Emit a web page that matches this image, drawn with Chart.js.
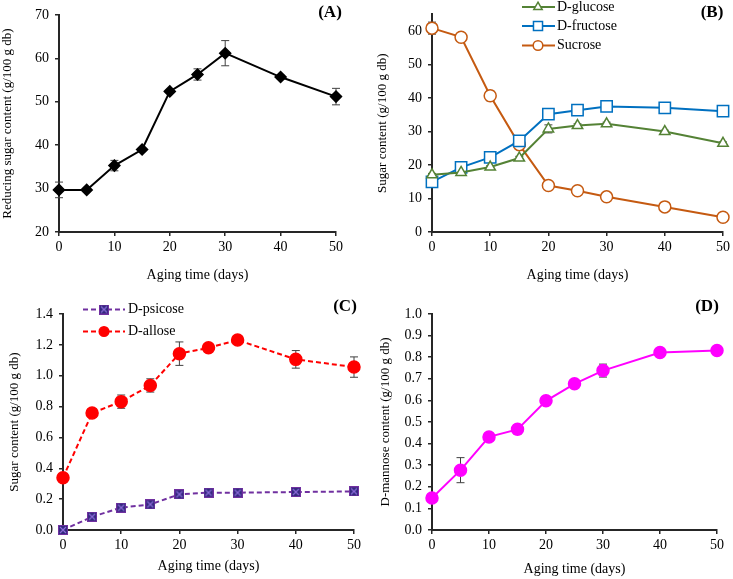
<!DOCTYPE html>
<html>
<head>
<meta charset="utf-8">
<script src="https://cdn.jsdelivr.net/npm/chart.js@4.4.1/dist/chart.umd.min.js"></script>
<style>
  body { margin: 0; background: #fff; }
  .panel { position: absolute; }
</style>
</head>
<body>
<div class="panel" style="left:0;top:0"><canvas id="chartA" width="366" height="290"></canvas></div>
<div class="panel" style="left:370px;top:0"><canvas id="chartB" width="363" height="290"></canvas></div>
<div class="panel" style="left:0;top:290px"><canvas id="chartC" width="366" height="289"></canvas></div>
<div class="panel" style="left:370px;top:290px"><canvas id="chartD" width="363" height="289"></canvas></div>
<script>
// --- Data ---
const agingDays = [0, 5, 10, 15, 20, 25, 30, 40, 50];

const reducingSugar = [29.7, 29.7, 35.3, 39.0, 52.4, 56.3, 61.2, 55.7, 51.2];
const reducingSugarErr = [1.8, 0, 1.2, 0.4, 0.4, 1.3, 2.9, 0.4, 1.9];

const glucose = [17.1, 17.8, 19.4, 22.1, 30.8, 31.8, 32.3, 30.0, 26.5];
const glucoseErr = [0.4, 0.4, 0.4, 0.5, 1.2, 0.5, 0.5, 0.4, 0.4];
const fructose = [15.0, 19.3, 22.3, 27.2, 35.2, 36.4, 37.5, 37.1, 36.1];
const fructoseErr = [0.4, 0.8, 0.4, 0.4, 0.4, 0.4, 0.4, 0.4, 0.4];
const sucrose = [60.9, 58.2, 40.7, 26.1, 13.9, 12.3, 10.5, 7.5, 4.4];
const sucroseErr = [1.8, 0.3, 1.5, 0.4, 0.3, 0.3, 0.3, 0.3, 0.3];

const psicose = [0.0, 0.086, 0.145, 0.166, 0.231, 0.242, 0.242, 0.246, 0.25];
const allose = [0.339, 0.758, 0.832, 0.937, 1.143, 1.181, 1.231, 1.106, 1.056];
const alloseErr = [0, 0.027, 0.043, 0.043, 0.076, 0.028, 0.01, 0.057, 0.066];

const mannose = [0.148, 0.277, 0.431, 0.466, 0.598, 0.677, 0.738, 0.822, 0.831];
const mannoseErr = [0, 0.058, 0.015, 0.022, 0.018, 0.008, 0.03, 0.01, 0.008];

const FONT = "'Liberation Serif', 'Times New Roman', serif";
const AXIS = '#262626';

function pts(ys) {
    return agingDays.map((x, i) => ({ x: x, y: ys[i] }));
}

// square-with-cross marker used for D-psicose
function crossSquare(size) {
    const c = document.createElement('canvas');
    c.width = size; c.height = size;
    const g = c.getContext('2d');
    g.fillStyle = '#7030A0';
    g.fillRect(0, 0, size, size);
    g.fillStyle = '#34287F';
    g.fillRect(1, 1, size - 2, size - 2);
    g.strokeStyle = '#8A6AD8';
    g.lineWidth = 1.2;
    g.beginPath();
    g.moveTo(2, 2); g.lineTo(size - 2, size - 2);
    g.moveTo(size - 2, 2); g.lineTo(2, size - 2);
    g.stroke();
    return c;
}

// --- Plugins ---
const errorBars = {
    id: 'errorBars',
    beforeDatasetsDraw(chart) {
        const ctx = chart.ctx;
        const xs = chart.scales.x, ys = chart.scales.y;
        chart.data.datasets.forEach(ds => {
            if (!ds.errors) return;
            ctx.save();
            ctx.strokeStyle = '#404040';
            ctx.lineWidth = 1;
            ds.data.forEach((p, i) => {
                const e = ds.errors[i];
                if (!e) return;
                const px = xs.getPixelForValue(p.x);
                const top = ys.getPixelForValue(p.y + e);
                const bot = ys.getPixelForValue(p.y - e);
                ctx.beginPath();
                ctx.moveTo(px, top); ctx.lineTo(px, bot);
                ctx.moveTo(px - 4, top); ctx.lineTo(px + 4, top);
                ctx.moveTo(px - 4, bot); ctx.lineTo(px + 4, bot);
                ctx.stroke();
            });
            ctx.restore();
        });
    }
};

const panelLabel = {
    id: 'panelLabel',
    afterDraw(chart, args, opts) {
        if (!opts.text) return;
        const ctx = chart.ctx;
        ctx.save();
        ctx.font = 'bold 17px ' + FONT;
        ctx.fillStyle = '#000';
        ctx.textAlign = 'center';
        ctx.textBaseline = 'middle';
        ctx.fillText(opts.text, opts.x, opts.y);
        ctx.restore();
    }
};

// legend drawn inside the plot, Excel style
const innerLegend = {
    id: 'innerLegend',
    afterDraw(chart, args, opts) {
        if (!opts.rows) return;
        const ctx = chart.ctx;
        chart.data.datasets.forEach((ds, i) => {
            const y = opts.rows[i];
            ctx.save();
            ctx.strokeStyle = ds.borderColor;
            ctx.lineWidth = ds.borderWidth;
            ctx.setLineDash(ds.borderDash || []);
            ctx.beginPath();
            ctx.moveTo(opts.lineStart, y);
            ctx.lineTo(opts.lineEnd, y);
            ctx.stroke();
            ctx.setLineDash([]);
            ctx.fillStyle = ds.pointBackgroundColor;
            ctx.strokeStyle = ds.pointBorderColor;
            ctx.lineWidth = ds.pointBorderWidth;
            Chart.helpers.drawPoint(ctx, {
                pointStyle: ds.pointStyle,
                radius: ds.pointRadius * 0.8,
                rotation: 0,
                borderWidth: ds.pointBorderWidth
            }, opts.marker, y);
            ctx.font = '14px ' + FONT;
            ctx.fillStyle = '#000';
            ctx.textBaseline = 'middle';
            ctx.fillText(ds.label, opts.textX, y);
            ctx.restore();
        });
    }
};

function makeChart(id, cfg) {
    return new Chart(document.getElementById(id), {
        type: 'line',
        data: { datasets: cfg.datasets },
        options: {
            responsive: false,
            devicePixelRatio: 1,
            animation: false,
            layout: { padding: { left: 0, top: cfg.padTop, right: cfg.padRight, bottom: 0 } },
            scales: {
                x: {
                    type: 'linear', min: 0, max: 50,
                    ticks: { stepSize: 10, color: '#000', font: { family: FONT, size: 14 }, padding: 3 },
                    grid: { drawOnChartArea: false, tickLength: 4, color: AXIS, lineWidth: 1.5 },
                    border: { color: AXIS, width: 2 },
                    title: {
                        display: true, text: 'Aging time (days)', color: '#000',
                        font: { family: FONT, size: 14 },
                        padding: { top: 0, bottom: cfg.xTitlePad }
                    },
                    afterFit: s => { s.height = cfg.xHeight; }
                },
                y: {
                    min: cfg.yMin, max: cfg.yMax,
                    ticks: {
                        color: '#000',
                        font: { family: FONT, size: 14 },
                        padding: 6,
                        stepSize: cfg.yStep,
                        includeBounds: false,
                        callback: v => v.toFixed(cfg.decimals)
                    },
                    grid: { drawOnChartArea: false, tickLength: 4, color: AXIS, lineWidth: 1.5 },
                    border: { color: AXIS, width: 2 },
                    title: {
                        display: true, text: cfg.yTitle, color: '#000',
                        font: { family: FONT, size: 13 },
                        padding: { top: cfg.yTitlePad, bottom: 0 }
                    },
                    afterFit: s => { s.width = cfg.yWidth; }
                }
            },
            plugins: {
                legend: { display: false },
                tooltip: { enabled: false },
                panelLabel: cfg.label,
                innerLegend: cfg.legend || {}
            }
        },
        plugins: [errorBars, panelLabel, innerLegend]
    });
}

function series(label, values, errs, style) {
    return Object.assign({
        label: label,
        data: pts(values),
        errors: errs,
        borderWidth: 2,
        pointBorderWidth: 1.5,
        tension: 0,
        clip: false
    }, style);
}

// (A) reducing sugar
makeChart('chartA', {
    yMin: 20, yMax: 70, yStep: 10, decimals: 0,
    yTitle: 'Reducing sugar content (g/100 g db)',
    padTop: 15, padRight: 30, yWidth: 59, xHeight: 58, xTitlePad: 6, yTitlePad: 0,
    label: { text: '(A)', x: 330, y: 13 },
    datasets: [
        series('Reducing sugar', reducingSugar, reducingSugarErr, {
            borderColor: '#000', pointStyle: 'rectRot', pointRadius: 5.5,
            pointBackgroundColor: '#000', pointBorderColor: '#000'
        })
    ]
});

// (B) glucose / fructose / sucrose
makeChart('chartB', {
    yMin: 0, yMax: 65, yStep: 10, decimals: 0,
    yTitle: 'Sugar content (g/100 g db)',
    padTop: 6, padRight: 8, yWidth: 62, xHeight: 58, xTitlePad: 6, yTitlePad: 5,
    label: { text: '(B)', x: 342, y: 13 },
    legend: { rows: [7, 26, 45.5], lineStart: 152, lineEnd: 185, marker: 168, textX: 187 },
    datasets: [
        series('D-glucose', glucose, glucoseErr, {
            borderColor: '#548235', pointStyle: 'triangle', pointRadius: 6,
            pointBackgroundColor: '#fff', pointBorderColor: '#548235'
        }),
        series('D-fructose', fructose, fructoseErr, {
            borderColor: '#0070C0', pointStyle: 'rect', pointRadius: 8,
            pointBackgroundColor: '#fff', pointBorderColor: '#0070C0'
        }),
        series('Sucrose', sucrose, sucroseErr, {
            borderColor: '#C55A11', pointStyle: 'circle', pointRadius: 6,
            pointBackgroundColor: '#fff', pointBorderColor: '#C55A11'
        })
    ]
});

// (C) psicose / allose
makeChart('chartC', {
    yMin: 0, yMax: 1.4, yStep: 0.2, decimals: 1,
    yTitle: 'Sugar content (g/100 g db)',
    padTop: 24, padRight: 12, yWidth: 63, xHeight: 49, xTitlePad: 4, yTitlePad: 7,
    label: { text: '(C)', x: 345, y: 17 },
    legend: { rows: [19.5, 41.5], lineStart: 83, lineEnd: 125, marker: 104, textX: 128 },
    datasets: [
        series('D-psicose', psicose, null, {
            borderColor: '#7030A0', borderDash: [5, 3], pointStyle: crossSquare(10), pointRadius: 5,
            pointBackgroundColor: '#34287F', pointBorderColor: '#7030A0', pointBorderWidth: 1
        }),
        series('D-allose', allose, alloseErr, {
            borderColor: '#FF0000', borderDash: [5, 3], pointStyle: 'circle', pointRadius: 6,
            pointBackgroundColor: '#FF0000', pointBorderColor: '#FF0000'
        })
    ]
});

// (D) mannose
makeChart('chartD', {
    yMin: 0, yMax: 1.0, yStep: 0.1, decimals: 1,
    yTitle: 'D-mannose content (g/100 g db)',
    padTop: 24, padRight: 16, yWidth: 62, xHeight: 49, xTitlePad: 1, yTitlePad: 8,
    label: { text: '(D)', x: 337, y: 17 },
    datasets: [
        series('D-mannose', mannose, mannoseErr, {
            borderColor: '#FF00FF', pointStyle: 'circle', pointRadius: 6,
            pointBackgroundColor: '#FF00FF', pointBorderColor: '#FF00FF'
        })
    ]
});
</script>
</body>
</html>
